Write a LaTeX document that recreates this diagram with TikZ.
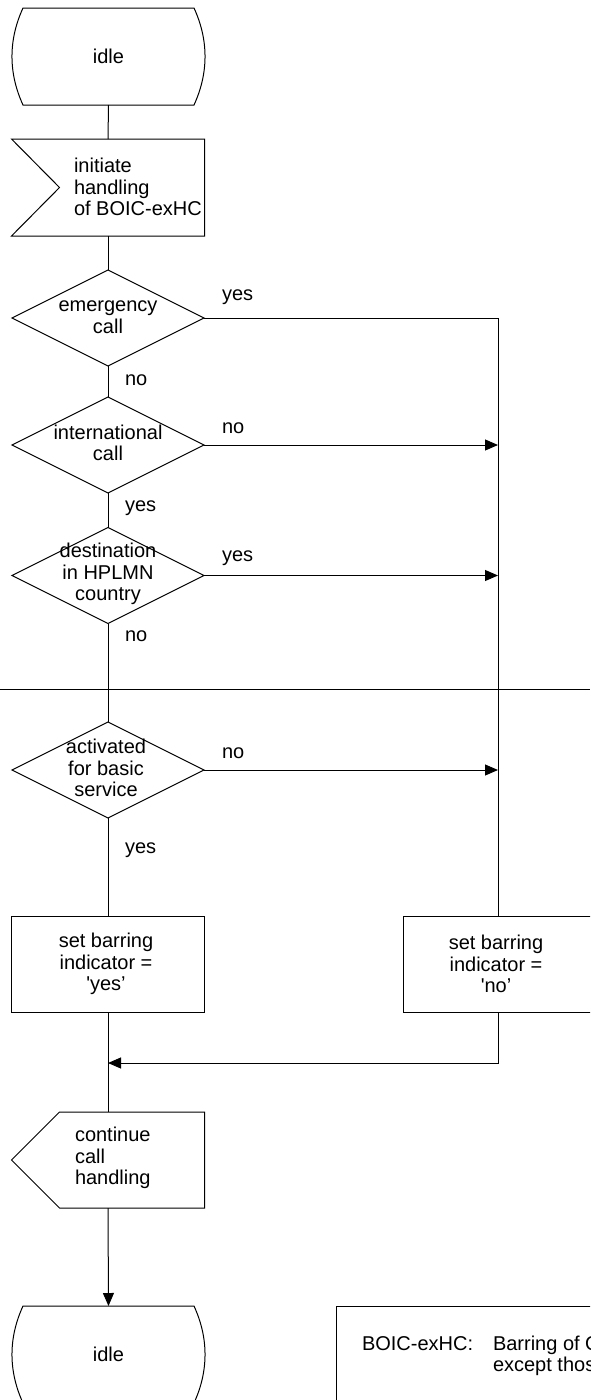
\documentclass[tikz,border=0pt]{standalone}
\usepackage{fontspec}
\setmainfont{Liberation Sans}
\usetikzlibrary{shapes.geometric,arrows.meta,calc}
\newcommand\idleoutline[1]{%
  \draw[shp] ($(#1.north west)+(11,0)$) -- ($(#1.north east)+(-11,0)$)
    .. controls ($(#1.north east)+(3.7,32)$) and ($(#1.south east)+(3.7,-32)$) .. ($(#1.south east)+(-11,0)$)
    -- ($(#1.south west)+(11,0)$)
    .. controls ($(#1.south west)+(-3.7,-32)$) and ($(#1.north west)+(-3.7,32)$) .. cycle;}
\begin{document}
\begin{tikzpicture}[x=1pt,y=-1pt,
  every node/.style={font=\fontsize{20}{21.5}\selectfont, inner sep=0pt, outer sep=0pt},
  shp/.style={draw=black, line width=1pt},
  ln/.style={draw=black, line width=1pt},
  arr/.style={-{Triangle[length=13pt,width=11pt]}},
  frame/.style={minimum width=193pt, minimum height=97pt},
  dec/.style={diamond, draw=black, line width=1pt, minimum width=192pt, minimum height=96pt, inner sep=0pt},
  taskbox/.style={rectangle, draw=black, line width=1pt, minimum width=193pt, minimum height=96pt},
  txt/.style={align=center},
  ltxt/.style={align=left},
  lbl/.style={anchor=west}]
\useasboundingbox (0,0) rectangle (590,1400);
\clip (0,0) rectangle (590,1400);

% top idle
\node[frame] (idle1) at (108.5,56.5) {idle};
\idleoutline{idle1}

% initiate (input signal)
\node[frame] (init) at (108,187.5) {};
\draw[shp] (init.north west) -- (init.north east) -- (init.south east) -- (init.south west) -- ($(init.west)+(48,0)$) -- cycle;
\node[ltxt, anchor=west] (initt) at (74,187) {initiate\\handling\\of BOIC-exHC};

% decisions
\node[dec] (d1) at (108,318) {};
\node[txt] (d1t) at (108,317) {emergency\\call};
\node[dec] (d2) at (108,445) {};
\node[txt] (d2t) at (108,443) {international\\call};
\node[dec] (d3) at (108,575.5) {};
\node[txt] (d3t) at (108,574) {destination\\in HPLMN\\country};
\node[dec] (d4) at (108,770) {};
\node[txt] (d4t) at (106,768) {activated\\for basic\\service};

% task boxes
\node[taskbox] (lb) at (108,964) {};
\node[txt] (lbt) at (106,964) {set barring\\indicator =\\\textquotesingle yes'};
\node[taskbox, minimum width=190pt] (rb) at (498,964) {};
\node[txt] (rbt) at (496,964) {set barring\\indicator =\\\textquotesingle no'};

% continue (output signal)
\node[frame, minimum height=96pt] (cont) at (108,1160) {};
\draw[shp] ($(cont.north west)+(48,0)$) -- (cont.north east) -- (cont.south east) -- ($(cont.south west)+(48,0)$) -- (cont.west) -- cycle;
\node[ltxt, anchor=west] (contt) at (75,1158) {continue\\call\\handling};

% bottom idle
\node[frame] (idle2) at (108.5,1354.5) {idle};
\idleoutline{idle2}

% note box
\node[draw=black, line width=1pt, anchor=north west, minimum width=300pt, minimum height=130pt] (note) at (336,1306) {};
\node[anchor=base west] (notek) at (362,1350) {BOIC-exHC:};
\node[anchor=base west] (notev1) at (493,1350) {Barring of Outgoing International calls};
\node[anchor=base west] (notev2) at (493,1371.5) {except those directed to the HPLMN country};

% separator line
\coordinate (hl) at (0,689);
\coordinate (hr) at (590,689);
\draw[line width=1pt] (hl) -- (hr);

% main flow
\draw[ln] (idle1.south) -- (init.north);
\draw[ln] (init.south) -- (d1.north);
\draw[ln] (d1.south) -- (d2.north);
\draw[ln] (d2.south) -- (d3.north);
\draw[ln] (d3.south) -- (d4.north);
\draw[ln] (d4.south) -- (lb.north);
\draw[ln] (lb.south) -- (cont.north);
\draw[ln, arr] (cont.south) -- (idle2.north);

% right branch
\draw[ln] (d1.east) -- (d1.east -| rb.north) -- (rb.north);
\draw[ln, arr] (d2.east) -- (d2.east -| rb.north);
\draw[ln, arr] (d3.east) -- (d3.east -| rb.north);
\draw[ln, arr] (d4.east) -- (d4.east -| rb.north);
\coordinate (jb) at (108,1063);
\draw[ln, arr] (rb.south) |- (jb);

% labels
\node[lbl] (l1) at (222,297) {yes};
\node[lbl] (l2) at (125,380) {no};
\node[lbl] (l3) at (222,428) {no};
\node[lbl] (l4) at (125,508) {yes};
\node[lbl] (l5) at (222,558) {yes};
\node[lbl] (l6) at (125,636) {no};
\node[lbl] (l7) at (222,753) {no};
\node[lbl] (l8) at (125,850) {yes};
\end{tikzpicture}
\end{document}
